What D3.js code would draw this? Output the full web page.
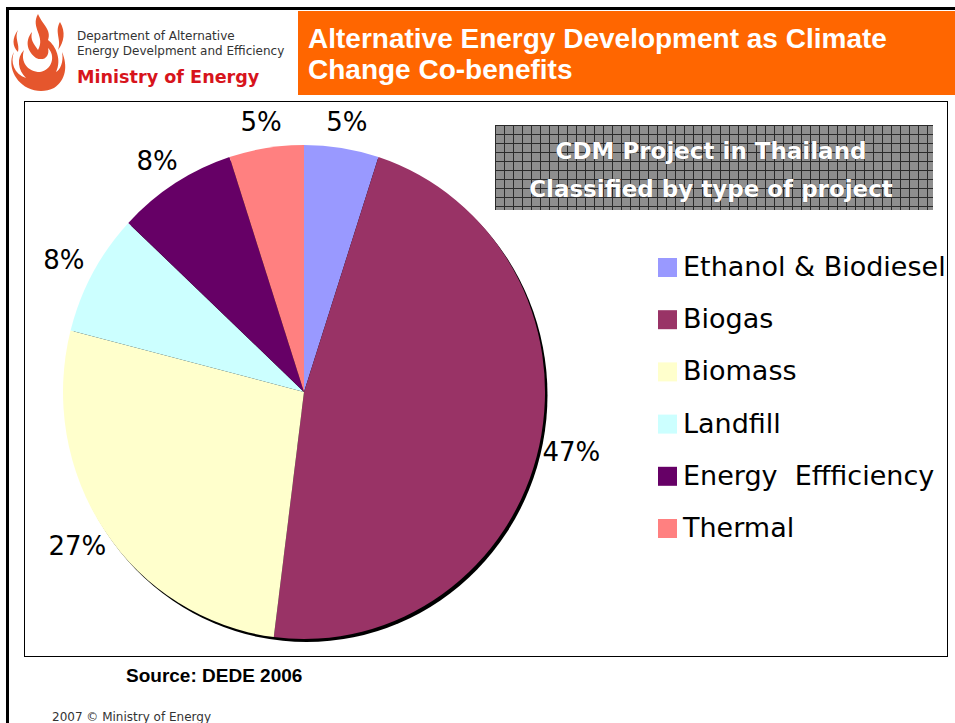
<!DOCTYPE html>
<html>
<head>
<meta charset="utf-8">
<script src="https://cdn.jsdelivr.net/npm/d3@7"></script>
<style>
  body { margin: 0; background: #fff; }
  svg { display: block; }
</style>
</head>
<body>
<svg id="chart" width="955" height="723"></svg>
<script>
// data
const categories = ["Ethanol & Biodiesel", "Biogas", "Biomass", "Landfill", "Energy  Effficiency", "Thermal"];
const shares = [5, 47, 27, 8, 8, 5];
const sliceColors = ["#9999ff", "#993366", "#ffffcc", "#ccffff", "#660066", "#ff8080"];
const titleLines = ["Alternative Energy Development as Climate", "Change Co-benefits"];
const boxLines = ["CDM Project in Thailand", "Classified by type of project"];

const svg = d3.select("#chart");

// slide frame
svg.append("line").attr("x1", 6).attr("x2", 955).attr("y1", 8.5).attr("y2", 8.5)
  .attr("stroke", "#000").attr("stroke-width", 3);
svg.append("line").attr("x1", 7.5).attr("x2", 7.5).attr("y1", 7).attr("y2", 723)
  .attr("stroke", "#000").attr("stroke-width", 3);

// orange header
svg.append("rect").attr("x", 298).attr("y", 11).attr("width", 657).attr("height", 84)
  .attr("fill", "#ff6600");
svg.selectAll("text.title").data(titleLines).join("text")
  .attr("class", "title")
  .attr("x", 308).attr("y", (d, i) => 48 + i * 31)
  .attr("fill", "#fff").attr("font-family", "Liberation Sans, Arial, sans-serif")
  .attr("font-weight", "bold").attr("font-size", 28)
  .text(d => d);

// logo (rough flame)
const logo = svg.append("g").attr("fill", "#e5562d");
logo.append("path").attr("d",
  "M38,14 C30,28 46,36 38,50 C34,44 30,40 32,32 C24,42 28,52 36,58 C44,62 50,56 48,48 C56,56 52,70 40,72 C28,72 20,62 24,50 C16,58 18,70 26,78 C14,74 10,62 14,52 C8,62 12,80 28,88 C36,92 46,92 54,88 C66,80 68,66 62,52 C64,62 60,70 56,72 C62,60 56,46 48,40 C52,30 42,24 38,14 Z");
logo.append("path").attr("d",
  "M60,22 C54,32 62,40 58,50 C64,42 66,32 60,22 Z");
logo.append("path").attr("d",
  "M18,30 C14,38 20,44 18,52 C12,46 12,38 18,30 Z");
logo.append("circle").attr("cx", 40).attr("cy", 64).attr("r", 5).attr("fill", "#fff");

svg.append("text").attr("x", 77).attr("y", 40)
  .attr("font-family", "DejaVu Sans, sans-serif").attr("font-size", 12).attr("fill", "#333")
  .text("Department of Alternative");
svg.append("text").attr("x", 77).attr("y", 55)
  .attr("font-family", "DejaVu Sans, sans-serif").attr("font-size", 12).attr("fill", "#333")
  .text("Energy Develpment and Efficiency");
svg.append("text").attr("x", 77).attr("y", 83)
  .attr("font-family", "DejaVu Sans, sans-serif").attr("font-weight", "bold")
  .attr("font-size", 17.6).attr("fill", "#d7141c")
  .text("Ministry of Energy");

// chart frame
svg.append("rect").attr("x", 24.5).attr("y", 101.5).attr("width", 923).attr("height", 555)
  .attr("fill", "#fff").attr("stroke", "#000").attr("stroke-width", 1);

// pie (slightly taller than wide, as on the slide)
const cx = 304, cy = 392, r = 241;
const pie = d3.pie().sort(null).value(d => d)(shares);
const arc = d3.arc().innerRadius(0).outerRadius(r);
const labelArc = d3.arc().innerRadius(274).outerRadius(274);

const g = svg.append("g").attr("transform", `translate(${cx},${cy})`);
const disc = g.append("g").attr("transform", "scale(1,1.025)");
disc.append("circle").attr("cx", 2.5).attr("cy", 3).attr("r", r).attr("fill", "#000");
disc.selectAll("path.slice").data(pie).join("path")
  .attr("class", "slice")
  .attr("d", arc)
  .attr("fill", (d, i) => sliceColors[i]);

g.selectAll("text.pct").data(pie).join("text")
  .attr("class", "pct")
  .attr("transform", d => `translate(${labelArc.centroid(d)})`)
  .attr("text-anchor", "middle").attr("dy", "0.36em")
  .attr("font-family", "DejaVu Sans, sans-serif").attr("font-size", 26).attr("fill", "#000")
  .text(d => d.data + "%");

// title box with grid pattern
const defs = svg.append("defs");
const pat = defs.append("pattern").attr("id", "grid").attr("patternUnits", "userSpaceOnUse")
  .attr("x", 495).attr("y", 125).attr("width", 9).attr("height", 9);
pat.append("rect").attr("width", 9).attr("height", 9).attr("fill", "#8e8e8e");
pat.append("path").attr("d", "M0,0.5H9M0.5,0V9").attr("stroke", "#2a2a2a").attr("stroke-width", 1);

svg.append("rect").attr("x", 495).attr("y", 125).attr("width", 438).attr("height", 85)
  .attr("fill", "url(#grid)");
svg.selectAll("text.box").data(boxLines).join("text")
  .attr("class", "box")
  .attr("x", 711).attr("y", (d, i) => 159 + i * 38)
  .attr("text-anchor", "middle")
  .attr("font-family", "DejaVu Sans, sans-serif").attr("font-weight", "bold")
  .attr("font-size", 23).attr("fill", "#fff")
  .attr("stroke", "#555").attr("stroke-width", 0.6).attr("paint-order", "stroke")
  .text(d => d);

// legend
const legend = svg.append("g").attr("transform", "translate(658,0)");
const rows = legend.selectAll("g").data(categories).join("g")
  .attr("transform", (d, i) => `translate(0,${258 + i * 52.2})`);
rows.append("rect").attr("width", 19).attr("height", 19)
  .attr("fill", (d, i) => sliceColors[i]);
rows.append("text").attr("x", 25).attr("y", 18)
  .attr("font-family", "DejaVu Sans, sans-serif").attr("font-size", 27).attr("fill", "#000")
  .style("white-space", "pre")
  .text(d => d);

// source + footer
svg.append("text").attr("x", 126).attr("y", 682)
  .attr("font-family", "Liberation Sans, Arial, sans-serif").attr("font-weight", "bold")
  .attr("font-size", 19).attr("fill", "#000")
  .text("Source: DEDE 2006");
svg.append("text").attr("x", 52).attr("y", 721)
  .attr("font-family", "DejaVu Sans, sans-serif").attr("font-size", 12).attr("fill", "#333")
  .text("2007 © Ministry of Energy");
</script>
</body>
</html>
